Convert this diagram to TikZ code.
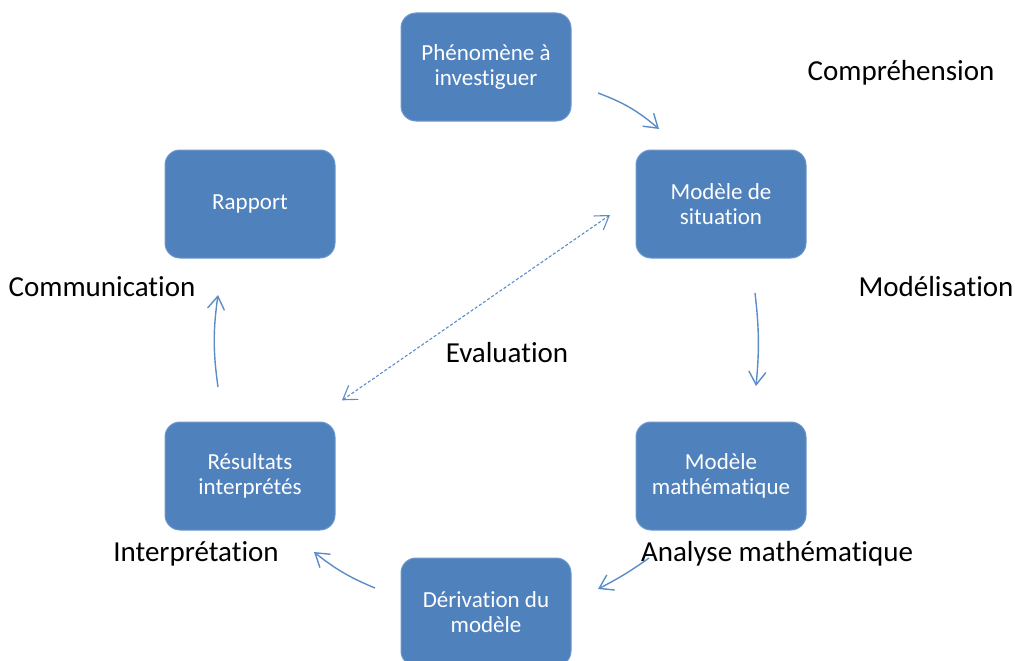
\documentclass[tikz,border=0pt]{standalone}
\usepackage{fontspec}
\setmainfont[Ligatures={NoCommon}]{Carlito}
\usetikzlibrary{arrows.meta}
\definecolor{boxblue}{HTML}{4F81BD}
\definecolor{boxedge}{HTML}{6E98CB}
\definecolor{arrowblue}{HTML}{5B8CC8}
\begin{document}
\begin{tikzpicture}[x=1pt,y=1pt,
  stagebox/.style={draw=boxedge, line width=1pt, fill=boxblue, rounded corners=15pt,
    minimum width=170pt, minimum height=108pt, text=white, align=center,
    font=\fontsize{23}{25}\selectfont},
  phase/.style={anchor=base, text=black, font=\fontsize{29}{31}\selectfont, inner sep=0pt},
  flow/.style={draw=arrowblue, line width=1.4pt, -{Straight Barb[length=13pt,width=17pt,line width=1.4pt]}},
  evalflow/.style={draw=arrowblue, line width=1.1pt, densely dashed,
    {Straight Barb[length=13pt,width=17pt,line width=1.1pt,sep]}-{Straight Barb[length=13pt,width=17pt,line width=1.1pt]}}
]
\useasboundingbox (0,0) rectangle (1015,-661);
\clip (0,0) rectangle (1015,-661);

\node[stagebox] (phen) at (486,-67) {Phénomène à\\investiguer};
\node[stagebox] (sit) at (721,-204) {Modèle de\\situation};
\node[stagebox] (math) at (721,-476) {Modèle\\mathématique};
\node[stagebox] (deriv) at (486,-612) {Dérivation du\\modèle};
\node[stagebox] (res) at (250,-476) {Résultats\\interprétés};
\node[stagebox] (rap) at (250,-204) {Rapport};

\node[phase] (lcomp) at (901,-81) {Compréhension};
\node[phase] (lmod) at (936,-296) {Modélisation};
\node[phase] (lcomm) at (102,-296) {Communication};
\node[phase] (leval) at (507,-362) {Evaluation};
\node[phase] (linter) at (196,-561) {Interprétation};
\node[phase] (lana) at (777,-561) {Analyse mathématique};

\coordinate (a1s) at (598,-93);  \coordinate (a1e) at (659,-129);
\coordinate (a2s) at (755,-293); \coordinate (a2e) at (756,-386);
\coordinate (a3s) at (649,-558); \coordinate (a3e) at (598,-589);
\coordinate (a4s) at (375,-588); \coordinate (a4e) at (314,-552);
\coordinate (a5s) at (218,-387); \coordinate (a5e) at (218,-295);
\coordinate (evs) at (610,-215); \coordinate (eve) at (341,-401);

\draw[flow] (a1s) to[bend left=10] (a1e);
\draw[flow] (a2s) to[bend left=6] (a2e);
\draw[flow] (a3s) to[bend left=4] (a3e);
\draw[flow] (a4s) to[bend left=8] (a4e);
\draw[flow] (a5s) to[bend left=8] (a5e);
\draw[evalflow] (eve) -- (evs);
\end{tikzpicture}
\end{document}
